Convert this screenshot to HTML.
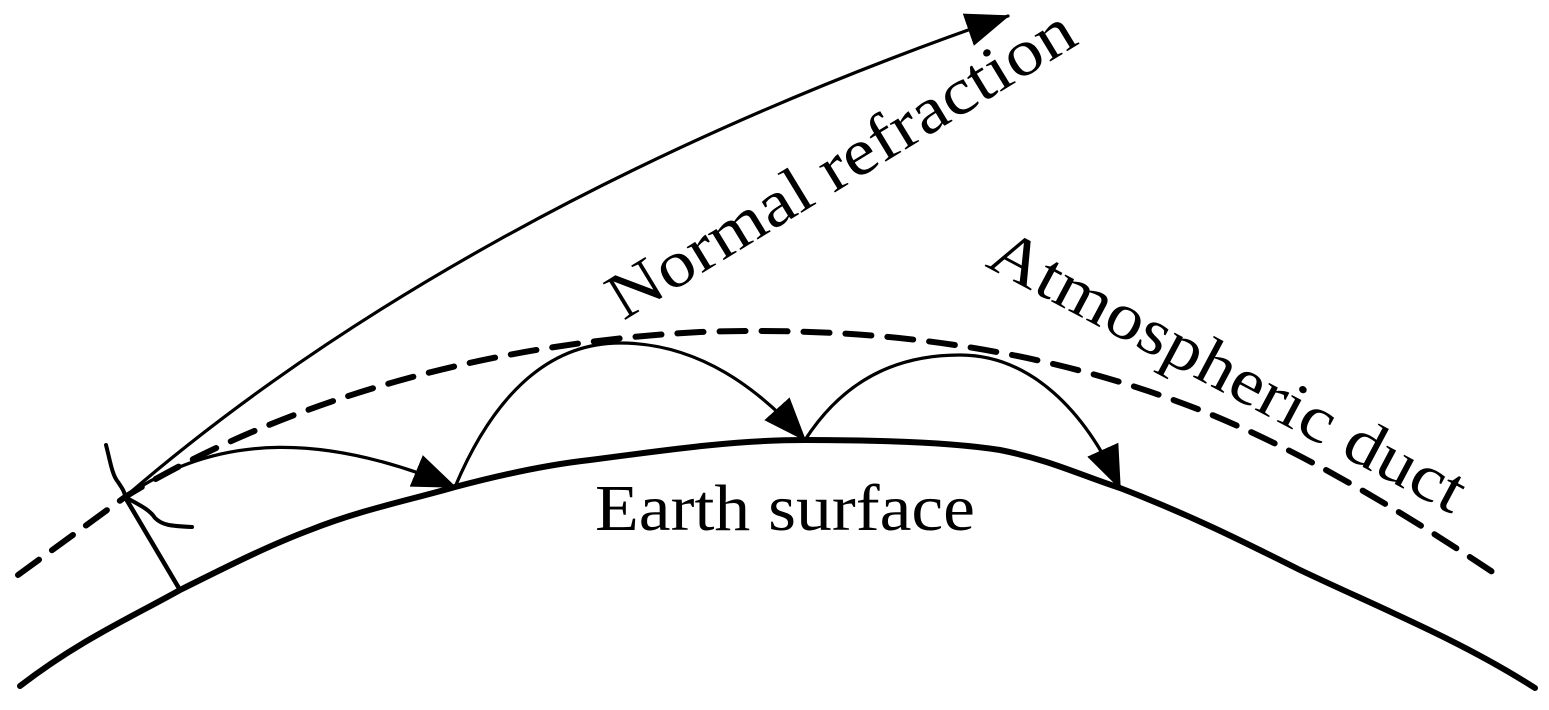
<!DOCTYPE html>
<html><head><style>html,body{margin:0;padding:0;background:#fff}svg{display:block}</style></head>
<body>
<svg width="1549" height="710" viewBox="0 0 1549 710" xmlns="http://www.w3.org/2000/svg">
<defs>
<marker id="ahb" markerWidth="44" markerHeight="34" refX="42" refY="17" orient="auto" markerUnits="userSpaceOnUse" viewBox="0 0 44 34">
<path d="M0,0 L44,17 L0,34 Z" fill="#000"/>
</marker>
</defs>
<g fill="none" stroke="#000" stroke-linecap="round" stroke-linejoin="round">
<path d="M20,686 C80,640 130,618 180,590 C230,565 270,545 310,530 C360,510 410,500 455,487 C500,475 545,465 590,460 C680,448 740,440 805,440 C880,440 950,442 1000,450 C1050,460 1080,475 1120,488 C1190,515 1240,540 1300,570 C1380,608 1460,640 1535,688" stroke-width="6"/>
<path d="M18,575 L125,497 C250,420 450,345 700,332 C900,325 1060,355 1200,410 C1300,450 1400,510 1500,577" stroke-width="6" stroke-dasharray="26,16"/>
<path d="M125,497 L180,590" stroke-width="4.5"/>
<path d="M106,445 C110,460 112,475 118,482 C122,488 125,492 125,497" stroke-width="4"/>
<path d="M125,497 C140,505 150,510 155,518 C162,525 170,526 192,527" stroke-width="4"/>
<path d="M125,497 C330,320 620,150 1008,16" stroke-width="3.2" marker-end="url(#ahb)"/>
<path d="M125,497 C220,430 330,435 455,487" stroke-width="3.2" marker-end="url(#ahb)"/>
<path d="M455,487 C500,380 560,343 620,343 C700,343 760,390 805,440" stroke-width="3.2" marker-end="url(#ahb)"/>
<path d="M805,440 C850,370 910,355 960,355 C1030,355 1085,410 1120,488" stroke-width="3.2" marker-end="url(#ahb)"/>
</g>
<g font-family="'Liberation Serif', serif" font-size="66" fill="#000">
<text x="852" y="182" text-anchor="middle" textLength="535" lengthAdjust="spacingAndGlyphs" transform="rotate(-31.3 852 182)">Normal refraction</text>
<text x="1218" y="390" text-anchor="middle" textLength="530" lengthAdjust="spacingAndGlyphs" transform="rotate(28 1218 390)">Atmospheric duct</text>
<text x="785" y="530" text-anchor="middle" textLength="380" lengthAdjust="spacingAndGlyphs">Earth surface</text>
</g>
</svg>
</body></html>
